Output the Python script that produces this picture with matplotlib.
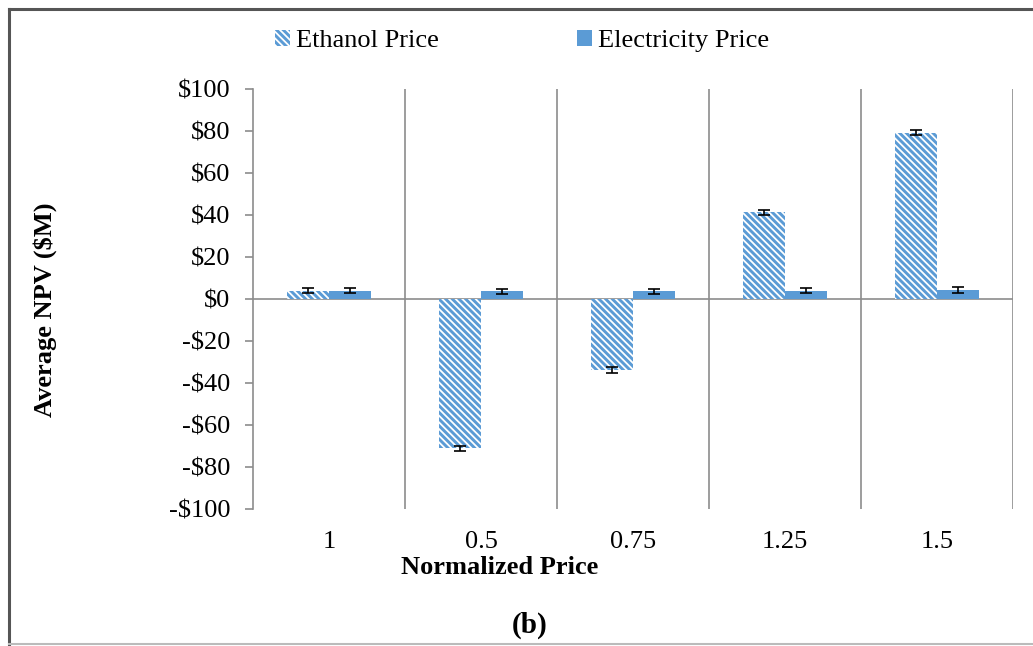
import matplotlib
matplotlib.use("Agg")
import matplotlib.pyplot as plt
from matplotlib.lines import Line2D
from matplotlib.patches import Patch
import numpy as np

categories = ["1", "0.5", "0.75", "1.25", "1.5"]
ethanol = [4.0, -71.0, -33.8, 41.4, 79.2]
ethanol_err = [1.3, 1.2, 1.2, 1.2, 1.2]
electricity = [4.0, 3.6, 3.8, 4.0, 4.3]
electricity_err = [1.3, 1.2, 1.2, 1.2, 1.3]
yticks = [-100, -80, -60, -40, -20, 0, 20, 40, 60, 80, 100]

plt.rcParams['font.family'] = ['Liberation Serif', 'DejaVu Serif']
plt.rcParams['hatch.linewidth'] = 2.1
plt.rcParams['hatch.color'] = '#5B9BD5'

W, H = 1033, 646
fig = plt.figure(figsize=(W/100, H/100), dpi=100)
ax = fig.add_axes([253/W, 1-509/H, (1013-253)/W, (509-89)/H])

blue = '#5B9BD5'
grid = '#8C8C8C'
x = np.arange(len(categories))
bw = 0.276
fs = 19
hatch = '\\' * 5

ax.bar(x - bw/2, ethanol, bw, color='white', edgecolor=blue, hatch=hatch,
       linewidth=0, yerr=ethanol_err, error_kw=dict(ecolor='black', capsize=4.5, elinewidth=1.2, capthick=1.2), zorder=3)
ax.bar(x + bw/2, electricity, bw, color=blue, linewidth=0,
       yerr=electricity_err, error_kw=dict(ecolor='black', capsize=4.5, elinewidth=1.2, capthick=1.2), zorder=3)

ax.set_xlim(-0.5, len(categories) - 0.5)
ax.set_ylim(-100, 100)
ax.set_yticks(yticks)
ax.set_yticklabels([("-$%d" % -v) if v < 0 else ("$%d" % v) for v in yticks], fontsize=fs)
ax.set_xticks(x)
ax.set_xticklabels(categories, fontsize=fs)

for s in ['top', 'right', 'bottom']:
    ax.spines[s].set_visible(False)
ax.spines['left'].set_color(grid)
ax.spines['left'].set_linewidth(1.2)
ax.tick_params(axis='y', length=6, width=1.2, color=grid, pad=10.5)
ax.tick_params(axis='x', length=0, pad=16)

ax.axhline(0, color=grid, lw=1.2, zorder=2)
ax.vlines(np.arange(0.5, len(categories), 1.0), -100, 100, color=grid, lw=1.2, zorder=1)

fig.text(45/W, 1-310/H, "Average NPV ($M)", rotation=90, ha='center', va='center',
         fontsize=fs, fontweight='bold')
fig.text(500/W, 1-568/H, "Normalized Price", ha='center', va='center',
         fontsize=fs, fontweight='bold')
fig.text(530/W, 1-625/H, "(b)", ha='center', va='center', fontsize=21, fontweight='bold')

handles = [Patch(facecolor='white', edgecolor=blue, hatch=hatch, linewidth=0, label='Ethanol Price'),
           Patch(facecolor=blue, linewidth=0, label='Electricity Price')]
fig.legend(handles=handles, loc='center left', bbox_to_anchor=(275/W, 1-41/H), ncol=2,
           frameon=False, fontsize=fs, handlelength=0.57, handleheight=0.57,
           handletextpad=0.22, columnspacing=5.25, borderaxespad=0, borderpad=0)

# figure border
fig.add_artist(Line2D([9/W, 9/W], [1-9/H, 1-644/H], color='#555555', lw=2.2, transform=fig.transFigure))
fig.add_artist(Line2D([9/W, 1.0], [1-9/H, 1-9/H], color='#555555', lw=2.2, transform=fig.transFigure))
fig.add_artist(Line2D([9/W, 1.0], [1-644/H, 1-644/H], color='#BBBBBB', lw=1.5, transform=fig.transFigure))

fig.savefig("out.png", dpi=100)
